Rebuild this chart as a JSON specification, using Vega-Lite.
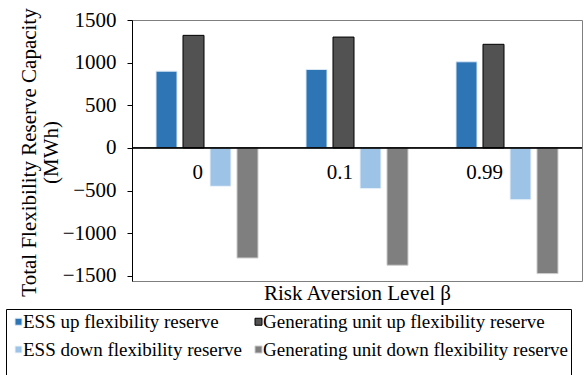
{
  "$schema": "https://vega.github.io/schema/vega-lite/v6.json",
  "width": 450,
  "height": 261,
  "autosize": {"type": "none"},
  "padding": {"left": 132, "top": 20, "right": 2, "bottom": 94},
  "background": "white",
  "config": {
    "font": "Liberation Serif",
    "view": {"stroke": "#7f7f7f", "strokeWidth": 1},
    "axis": {"labelFont": "Liberation Serif", "titleFont": "Liberation Serif", "titleFontWeight": "normal", "labelColor": "#000", "titleColor": "#000"},
    "legend": {"labelFont": "Liberation Serif", "labelColor": "#000"}
  },
  "datasets": {
    "bars": [
      {"beta": "0", "series": "ESS up flexibility reserve", "value": 900},
      {"beta": "0", "series": "Generating unit up flexibility reserve", "value": 1320},
      {"beta": "0", "series": "ESS down flexibility reserve", "value": -450},
      {"beta": "0", "series": "Generating unit down flexibility reserve", "value": -1290},
      {"beta": "0.1", "series": "ESS up flexibility reserve", "value": 920},
      {"beta": "0.1", "series": "Generating unit up flexibility reserve", "value": 1300},
      {"beta": "0.1", "series": "ESS down flexibility reserve", "value": -478},
      {"beta": "0.1", "series": "Generating unit down flexibility reserve", "value": -1375},
      {"beta": "0.99", "series": "ESS up flexibility reserve", "value": 1010},
      {"beta": "0.99", "series": "Generating unit up flexibility reserve", "value": 1215},
      {"beta": "0.99", "series": "ESS down flexibility reserve", "value": -608},
      {"beta": "0.99", "series": "Generating unit down flexibility reserve", "value": -1473}
    ],
    "cats": [
      {"beta": "0"},
      {"beta": "0.1"},
      {"beta": "0.99"}
    ]
  },
  "layer": [
    {
      "data": {"name": "bars"},
      "mark": {"type": "bar", "strokeWidth": 1},
      "encoding": {
        "x": {
          "field": "beta", "type": "nominal", "sort": ["0", "0.1", "0.99"],
          "scale": {"paddingInner": 0, "paddingOuter": 0},
          "axis": {
            "title": "Risk Aversion Level β",
            "labels": false, "ticks": false, "domain": false,
            "titleFont": "Liberation Serif",
            "titleFontSize": 21, "titleX": 225, "titleY": 12,
            "titleBaseline": "middle", "titleAlign": "center", "titleAnchor": null
          }
        },
        "xOffset": {
          "field": "series", "type": "nominal",
          "sort": ["ESS up flexibility reserve", "Generating unit up flexibility reserve", "ESS down flexibility reserve", "Generating unit down flexibility reserve"],
          "scale": {"paddingInner": 0.222, "paddingOuter": 0.889}
        },
        "y": {
          "field": "value", "type": "quantitative",
          "scale": {"domain": [-1560, 1500], "nice": false, "zero": false},
          "axis": {
            "title": ["Total Flexibility Reserve Capacity", "(MWh)"],
            "values": [-1500, -1000, -500, 0, 500, 1000, 1500],
            "format": "d",
            "grid": false,
            "labelFont": "Liberation Serif",
            "labelFontSize": 21, "labelPadding": 11,
            "tickSize": 5, "tickColor": "#000", "domainColor": "#000",
            "titleFont": "Liberation Serif",
            "titleFontSize": 21, "titleLineHeight": 22,
            "titleX": -103, "titleY": 132, "titleAngle": 270,
            "titleAlign": "center", "titleBaseline": "middle", "titleAnchor": null
          }
        },
        "fill": {
          "field": "series", "type": "nominal",
          "sort": ["ESS up flexibility reserve", "Generating unit up flexibility reserve", "ESS down flexibility reserve", "Generating unit down flexibility reserve"],
          "scale": {
            "domain": ["ESS up flexibility reserve", "Generating unit up flexibility reserve", "ESS down flexibility reserve", "Generating unit down flexibility reserve"],
            "range": ["#2E75B6", "#525252", "#9DC3E6", "#7F7F7F"]
          },
          "legend": {
            "title": " ", "titleOrient": "bottom", "titleFontSize": 19, "titlePadding": 8,
            "orient": "none", "legendX": -126, "legendY": 289,
            "columns": 2, "direction": "horizontal",
            "symbolType": "square", "symbolSize": 49, "symbolStrokeWidth": 1,
            "labelFont": "Liberation Serif",
            "labelFontSize": 19, "labelOffset": -5, "labelLimit": 400,
            "rowPadding": 8, "columnPadding": 7, "padding": 3,
            "strokeColor": "#000", "fillColor": "white"
          }
        },
        "stroke": {
          "field": "series", "type": "nominal",
          "sort": ["ESS up flexibility reserve", "Generating unit up flexibility reserve", "ESS down flexibility reserve", "Generating unit down flexibility reserve"],
          "scale": {
            "domain": ["ESS up flexibility reserve", "Generating unit up flexibility reserve", "ESS down flexibility reserve", "Generating unit down flexibility reserve"],
            "range": ["#dbe9f5", "#000000", "#eef5fb", "#cccccc"]
          },
          "legend": null
        }
      }
    },
    {
      "data": {"name": "cats"},
      "mark": {"type": "rule", "color": "#000", "strokeWidth": 1},
      "encoding": {"y": {"datum": 0}}
    },
    {
      "data": {"name": "cats"},
      "mark": {"type": "text", "align": "right", "baseline": "middle", "dx": -4, "dy": 25, "fontSize": 21, "font": "Liberation Serif", "color": "#000"},
      "encoding": {
        "x": {"field": "beta", "type": "nominal", "sort": ["0", "0.1", "0.99"]},
        "y": {"datum": 0},
        "text": {"field": "beta"}
      }
    }
  ]
}
